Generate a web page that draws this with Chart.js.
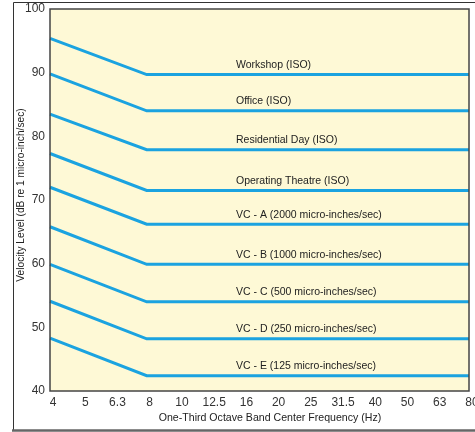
<!DOCTYPE html>
<html><head><meta charset="utf-8">
<script src="https://cdn.jsdelivr.net/npm/chart.js@4/dist/chart.umd.min.js"></script>
<style>html,body{margin:0;padding:0;background:#fff}#wrap{width:475px;height:432px;position:relative}canvas{display:block}</style>
</head><body><div id="wrap"><canvas id="c" width="475" height="432" style="width:475px;height:432px"></canvas></div>
<script>
// Categories (one-third octave band centre frequencies, Hz)
const frequencies = ['4','5','6.3','8','10','12.5','16','20','25','31.5','40','50','63','80'];
// Y-axis ticks
const yTicks = [40, 50, 60, 70, 80, 90, 100];
// Curve names
const curveNames = ['Workshop (ISO)','Office (ISO)','Residential Day (ISO)','Operating Theatre (ISO)',
  'VC - A (2000 micro-inches/sec)','VC - B (1000 micro-inches/sec)','VC - C (500 micro-inches/sec)',
  'VC - D (250 micro-inches/sec)','VC - E (125 micro-inches/sec)'];
// Series values (dB re 1 micro-inch/sec); null = not marked (line spans straight from 4 Hz to 8 Hz)
const workshop    = [95.4, null, null, 89.7, 89.7, 89.7, 89.7, 89.7, 89.7, 89.7, 89.7, 89.7, 89.7, 89.7];
const office      = [89.8, null, null, 84.0, 84.0, 84.0, 84.0, 84.0, 84.0, 84.0, 84.0, 84.0, 84.0, 84.0];
const residential = [83.5, null, null, 77.9, 77.9, 77.9, 77.9, 77.9, 77.9, 77.9, 77.9, 77.9, 77.9, 77.9];
const operating   = [77.3, null, null, 71.5, 71.5, 71.5, 71.5, 71.5, 71.5, 71.5, 71.5, 71.5, 71.5, 71.5];
const vcA         = [72.0, null, null, 66.2, 66.2, 66.2, 66.2, 66.2, 66.2, 66.2, 66.2, 66.2, 66.2, 66.2];
const vcB         = [65.8, null, null, 59.9, 59.9, 59.9, 59.9, 59.9, 59.9, 59.9, 59.9, 59.9, 59.9, 59.9];
const vcC         = [59.9, null, null, 54.0, 54.0, 54.0, 54.0, 54.0, 54.0, 54.0, 54.0, 54.0, 54.0, 54.0];
const vcD         = [54.1, null, null, 48.2, 48.2, 48.2, 48.2, 48.2, 48.2, 48.2, 48.2, 48.2, 48.2, 48.2];
const vcE         = [48.3, null, null, 42.4, 42.4, 42.4, 42.4, 42.4, 42.4, 42.4, 42.4, 42.4, 42.4, 42.4];
const seriesValues = [workshop, office, residential, operating, vcA, vcB, vcC, vcD, vcE];

const xTitle = 'One-Third Octave Band Center Frequency (Hz)';
const yTitle = 'Velocity Level (dB re 1 micro-inch/sec)';

const FONT = '"Liberation Sans", Arial, Helvetica, sans-serif';
const LINE = '#1ba3e0';

const decor = {
  id: 'decor',
  beforeDraw(chart) {
    const ctx = chart.ctx, a = chart.chartArea;
    ctx.save();
    ctx.fillStyle = '#ffffff';
    ctx.fillRect(0, 0, chart.width, chart.height);
    // outer frame
    ctx.strokeStyle = '#333';
    ctx.lineWidth = 1;
    ctx.beginPath();
    ctx.moveTo(475, 2.5); ctx.lineTo(13.5, 2.5); ctx.lineTo(13.5, 430);
    ctx.stroke();
    ctx.strokeStyle = '#666';
    ctx.lineWidth = 2.5;
    ctx.beginPath();
    ctx.moveTo(12, 430.5); ctx.lineTo(475, 430.5);
    ctx.stroke();
    // plot background
    ctx.fillStyle = '#fef9d6';
    ctx.fillRect(a.left, a.top, a.right - a.left, a.bottom - a.top);
    ctx.restore();
  },
  afterDatasetsDraw(chart) {
    const ctx = chart.ctx, a = chart.chartArea;
    const xs = chart.scales.x, ys = chart.scales.y;
    ctx.save();
    ctx.strokeStyle = '#444';
    ctx.lineWidth = 1.5;
    ctx.strokeRect(a.left, a.top, a.right - a.left, a.bottom - a.top);
    // curve labels
    ctx.fillStyle = '#222';
    ctx.font = '10.5px ' + FONT;
    ctx.textAlign = 'left';
    ctx.textBaseline = 'middle';
    const p5 = xs.getPixelForValue(5), p6 = xs.getPixelForValue(6);
    const lx = p5 + (p6 - p5) * 0.77;
    chart.data.datasets.forEach((ds) => {
      const lvl = ds.data[ds.data.length - 1];
      ctx.fillText(ds.label, lx, ys.getPixelForValue(lvl) - 9.5);
    });
    // axis titles
    ctx.font = '10.6px ' + FONT;
    ctx.textAlign = 'center';
    ctx.fillText(xTitle, 270, 418);
    ctx.font = '10.2px ' + FONT;
    ctx.translate(21, 195);
    ctx.rotate(-Math.PI / 2);
    ctx.fillText(yTitle, 0, 0);
    ctx.restore();
  }
};

new Chart(document.getElementById('c'), {
  type: 'line',
  data: {
    labels: frequencies,
    datasets: seriesValues.map((vals, i) => ({
      label: curveNames[i],
      data: vals,
      borderColor: LINE,
      borderWidth: 3,
      pointRadius: 0,
      fill: false,
      spanGaps: true,
      tension: 0
    }))
  },
  options: {
    responsive: false,
    maintainAspectRatio: false,
    animation: false,
    devicePixelRatio: 1,
    layout: { padding: { top: 9, right: 6, left: 0, bottom: 0 } },
    plugins: { legend: { display: false }, tooltip: { enabled: false } },
    scales: {
      x: {
        type: 'category',
        offset: false,
        grid: { display: false, drawTicks: false },
        border: { display: false },
        ticks: { color: '#333', font: { size: 12, family: FONT }, padding: 4, labelOffset: 3, maxRotation: 0, autoSkip: false },
        afterFit(s) { s.height = 41; s.paddingLeft = 0; s.paddingRight = 0; }
      },
      y: {
        min: 40, max: 100,
        grid: { display: false, drawTicks: false },
        border: { display: false },
        afterBuildTicks(s) { s.ticks = yTicks.map(v => ({ value: v })); },
        ticks: { color: '#333', font: { size: 12, family: FONT }, padding: 5 },
        afterFit(s) { s.width = 50; s.paddingTop = 0; s.paddingBottom = 0; }
      }
    }
  },
  plugins: [decor]
});
</script>
</body></html>
